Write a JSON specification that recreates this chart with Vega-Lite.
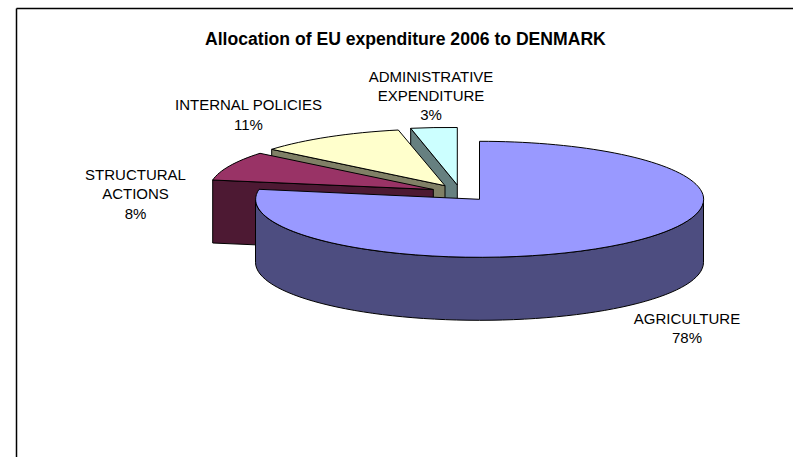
{
  "$schema": "https://vega.github.io/schema/vega-lite/v6.json",
  "width": 777,
  "height": 449,
  "padding": {"left": 16, "top": 8, "right": 0, "bottom": 0},
  "autosize": "none",
  "background": "white",
  "config": {"view": {"stroke": null}},
  "title": {
    "text": "Allocation of EU expenditure 2006 to DENMARK",
    "anchor": "start",
    "frame": "group",
    "offset": -54.5,
    "dx": 189,
    "baseline": "alphabetic",
    "font": "Liberation Sans",
    "fontSize": 17.6,
    "fontWeight": "bold",
    "color": "black"
  },
  "data": {
    "values": [
      {"category": "ADMINISTRATIVE EXPENDITURE", "share": 3, "label": "ADMINISTRATIVE\nEXPENDITURE\n3%"},
      {"category": "INTERNAL POLICIES", "share": 11, "label": "INTERNAL POLICIES\n11%"},
      {"category": "STRUCTURAL ACTIONS", "share": 8, "label": "STRUCTURAL\nACTIONS\n8%"},
      {"category": "AGRICULTURE", "share": 78, "label": "AGRICULTURE\n78%"}
    ]
  },
  "resolve": {"scale": {"x": "independent", "y": "independent", "shape": "independent", "fill": "independent"}, "axis": {"x": "independent", "y": "independent"}},
  "layer": [
    {
      "mark": {"type": "point", "filled": true, "opacity": 1, "stroke": "black", "strokeWidth": 1, "size": 4},
      "encoding": {
        "x": {"datum": 0, "type": "quantitative", "scale": {"domain": [-463.5, 313.5], "nice": false, "zero": false},
          "axis": {"orient": "top", "title": null, "ticks": false, "labels": false, "grid": false, "domainColor": "black", "domainWidth": 1.5}},
        "y": {"datum": 0, "type": "quantitative", "scale": {"domain": [-257.7, 191.3], "nice": false, "zero": false},
          "axis": {"orient": "left", "title": null, "ticks": false, "labels": false, "grid": false, "domainColor": "black", "domainWidth": 1.5}},
        "fill": {"field": "category", "type": "nominal", "legend": null,
          "scale": {"domain": ["AGRICULTURE", "STRUCTURAL ACTIONS", "INTERNAL POLICIES", "ADMINISTRATIVE EXPENDITURE"], "range": ["#4D4D80", "#4D1933", "#808066", "#668080"]}},
        "shape": {"field": "category", "type": "nominal", "legend": null,
          "scale": {"domain": ["AGRICULTURE", "STRUCTURAL ACTIONS", "INTERNAL POLICIES", "ADMINISTRATIVE EXPENDITURE"],
            "range": [
              "M224,0 A224,58 0 0 1 -224,0 L-224,63 A224,58 0 0 0 224,63 Z",
              "M-266.8,-19.3 L-46.2,-9.8 L-46.2,53.2 L-266.8,43.7 Z",
              "M-207.8,-50 L-34.5,-13.6 L-34.5,49.4 L-207.8,13 Z",
              "M-68.8,-71 L-22.2,-14.3 L-22.2,48.7 L-68.8,-8 Z"
            ]}}
      }
    },
    {
      "mark": {"type": "point", "filled": true, "opacity": 1, "stroke": "black", "strokeWidth": 1, "size": 4},
      "encoding": {
        "x": {"datum": 0, "type": "quantitative", "scale": {"domain": [-463.5, 313.5], "nice": false, "zero": false}, "axis": null},
        "y": {"datum": 0, "type": "quantitative", "scale": {"domain": [-257.7, 191.3], "nice": false, "zero": false}, "axis": null},
        "fill": {"field": "category", "type": "nominal", "legend": null,
          "scale": {"domain": ["AGRICULTURE", "STRUCTURAL ACTIONS", "INTERNAL POLICIES", "ADMINISTRATIVE EXPENDITURE"], "range": ["#9999FF", "#993366", "#FFFFCC", "#CCFFFF"]}},
        "shape": {"field": "category", "type": "nominal", "legend": null,
          "scale": {"domain": ["AGRICULTURE", "STRUCTURAL ACTIONS", "INTERNAL POLICIES", "ADMINISTRATIVE EXPENDITURE"],
            "range": [
              "M0,0 L0,-58 A224,58 0 1 1 -220.5,-10 Z",
              "M-46.2,-9.8 L-219.5,-46 A224,58 0 0 0 -266.8,-19.3 Z",
              "M-34.5,-13.6 L-81.2,-69.3 A224,58 0 0 0 -207.8,-50 Z",
              "M-22.2,-14.3 L-22.2,-71.8 A224,58 0 0 0 -68.8,-71 Z"
            ]}}
      }
    },
    {
      "mark": {"type": "text", "font": "Liberation Sans", "fontSize": 15, "color": "black", "align": "center", "baseline": "alphabetic", "lineBreak": "\n", "lineHeight": 19.3},
      "encoding": {
        "x": {"field": "share", "type": "quantitative", "axis": null,
          "scale": {"domain": [3, 8, 11, 78], "range": [415, 119.5, 232.5, 671], "nice": false, "zero": false}},
        "y": {"field": "share", "type": "quantitative", "axis": null,
          "scale": {"domain": [3, 8, 11, 78], "range": [73.5, 172, 102.3, 316], "nice": false, "zero": false}},
        "text": {"field": "label", "type": "nominal"}
      }
    }
  ]
}
